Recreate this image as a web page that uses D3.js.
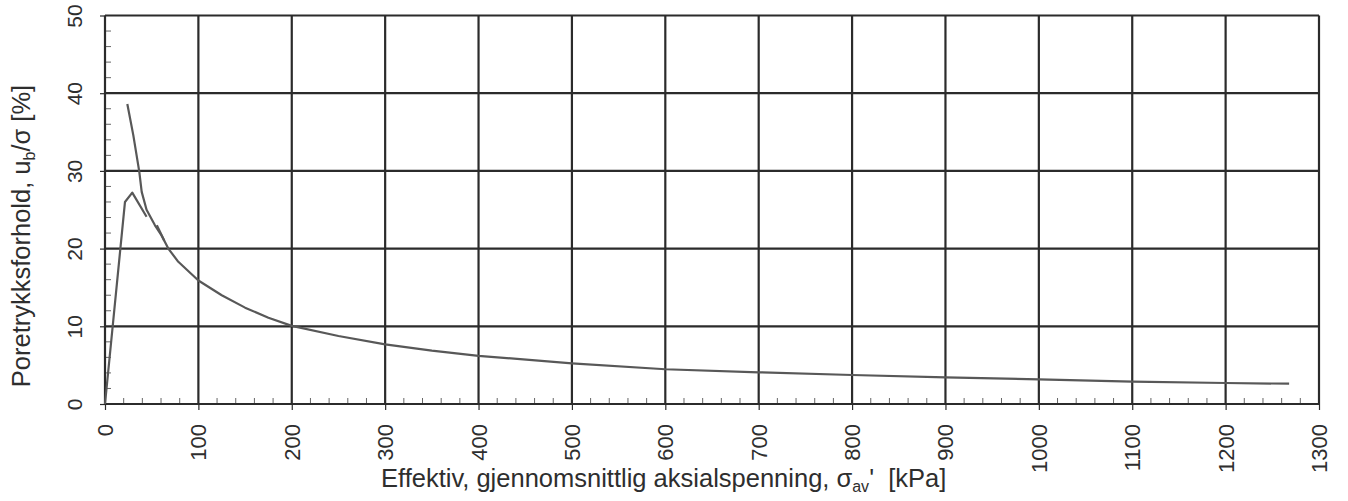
<!DOCTYPE html>
<html>
<head>
<meta charset="utf-8">
<script src="https://cdn.jsdelivr.net/npm/d3@7"></script>
<style>
  body { margin: 0; background: #fff; }
  svg { display: block; font-family: "Liberation Sans", Arial, sans-serif; }
</style>
</head>
<body>
<div id="chart"></div>
<script>
// tick values
const x_ticks = [0, 100, 200, 300, 400, 500, 600, 700, 800, 900, 1000, 1100, 1200, 1300];
const y_ticks = [0, 10, 20, 30, 40, 50];

// loading branch (first points)
const load_x = [0, 21.4, 29.2, 44.5];
const load_y = [0, 26.0, 27.2, 24.1];

// main branch
const main_x = [23.9, 30.3, 36.7, 39.3, 44.5, 53.5, 60, 67.8, 78.5, 100, 125, 150, 175, 200, 250, 300, 350, 400, 500, 600, 700, 800, 900, 1000, 1100, 1200, 1268];
const main_y = [38.6, 34.6, 29.9, 27.3, 25.0, 23.0, 21.8, 20.0, 18.3, 15.9, 14.0, 12.4, 11.1, 10.05, 8.75, 7.68, 6.86, 6.2, 5.24, 4.47, 4.08, 3.73, 3.43, 3.18, 2.87, 2.70, 2.61];

// short overlapping piece
const jog_x = [55.5, 63.5];
const jog_y = [23.0, 21.0];

const width = 1348, height = 501;
const margin = { left: 105, right: 29, top: 15.5, bottom: 97 };

const svg = d3.select('#chart').append('svg')
    .attr('width', width)
    .attr('height', height);

const x = d3.scaleLinear().domain([0, 1300]).range([margin.left, width - margin.right]);
const y = d3.scaleLinear().domain([0, 50]).range([height - margin.bottom, margin.top]);

const grid_color = '#2b2b2b';
const line_color = '#585858';
const text_color = '#2e2e2e';

// minor ticks, pointing into the plot
const x_minor = d3.range(0, 1301, 20).filter(v => v % 100 !== 0);
const y_minor = d3.range(0, 51, 2).filter(v => v % 10 !== 0);

svg.append('g').selectAll('line')
    .data(x_minor)
    .join('line')
    .attr('x1', d => x(d)).attr('x2', d => x(d))
    .attr('y1', y(0)).attr('y2', y(0) - 6)
    .attr('stroke', '#666').attr('stroke-width', 1);

svg.append('g').selectAll('line')
    .data(y_minor)
    .join('line')
    .attr('x1', x(0)).attr('x2', x(0) + 6)
    .attr('y1', d => y(d)).attr('y2', d => y(d))
    .attr('stroke', '#666').attr('stroke-width', 1);

// grid
svg.append('g').selectAll('line')
    .data(x_ticks)
    .join('line')
    .attr('x1', d => x(d)).attr('x2', d => x(d))
    .attr('y1', y(0)).attr('y2', y(50))
    .attr('stroke', grid_color).attr('stroke-width', 2.2);

svg.append('g').selectAll('line')
    .data(y_ticks)
    .join('line')
    .attr('x1', x(0)).attr('x2', x(1300))
    .attr('y1', d => y(d)).attr('y2', d => y(d))
    .attr('stroke', grid_color).attr('stroke-width', 2.2);

// axes
const x_axis = svg.append('g')
    .attr('transform', `translate(0,${y(0)})`)
    .call(d3.axisBottom(x).tickValues(x_ticks).tickFormat(d3.format('d')).tickSize(6).tickSizeOuter(0));
x_axis.select('.domain').remove();
x_axis.selectAll('line').attr('stroke', grid_color).attr('stroke-width', 1.2);
x_axis.selectAll('text')
    .attr('transform', 'rotate(-90)')
    .attr('x', -20).attr('y', 7.5).attr('dy', 0)
    .attr('text-anchor', 'end')
    .attr('fill', text_color)
    .style('font-size', '22px')
    .style('font-family', '"Liberation Sans", Arial, sans-serif');

const y_axis = svg.append('g')
    .attr('transform', `translate(${x(0)},0)`)
    .call(d3.axisLeft(y).tickValues(y_ticks).tickFormat(d3.format('d')).tickSize(5).tickSizeOuter(0));
y_axis.select('.domain').remove();
y_axis.selectAll('line').attr('stroke', grid_color).attr('stroke-width', 1.2);
y_axis.selectAll('text')
    .attr('transform', 'rotate(-90)')
    .attr('x', 0).attr('y', -23.5).attr('dy', 0)
    .attr('text-anchor', 'middle')
    .attr('fill', text_color)
    .style('font-size', '21px')
    .style('font-family', '"Liberation Sans", Arial, sans-serif');

// curves
const line = d3.line().x(d => x(d[0])).y(d => y(d[1]));
const series = [
    d3.zip(load_x, load_y),
    d3.zip(main_x, main_y),
    d3.zip(jog_x, jog_y)
];
svg.append('g').selectAll('path')
    .data(series)
    .join('path')
    .attr('d', line)
    .attr('fill', 'none')
    .attr('stroke', line_color)
    .attr('stroke-width', 2.2)
    .attr('stroke-linejoin', 'round');

// axis titles
const y_title = svg.append('text')
    .attr('transform', 'translate(30,236) rotate(-90)')
    .attr('text-anchor', 'middle')
    .attr('fill', text_color)
    .style('font-size', '25.5px');
y_title.append('tspan').text('Poretrykksforhold, u');
y_title.append('tspan').text('b').attr('dy', 5).style('font-size', '16px');
y_title.append('tspan').text('/σ [%]').attr('dy', -5);

const x_title = svg.append('text')
    .attr('x', 381).attr('y', 487)
    .attr('text-anchor', 'start')
    .attr('fill', text_color)
    .style('font-size', '25.5px');
x_title.append('tspan').text('Effektiv, gjennomsnittlig aksialspenning, σ');
x_title.append('tspan').text('av').attr('dy', 5).style('font-size', '16px');
x_title.append('tspan').text("'\u00a0\u00a0[kPa]").attr('dy', -5);
</script>
</body>
</html>
